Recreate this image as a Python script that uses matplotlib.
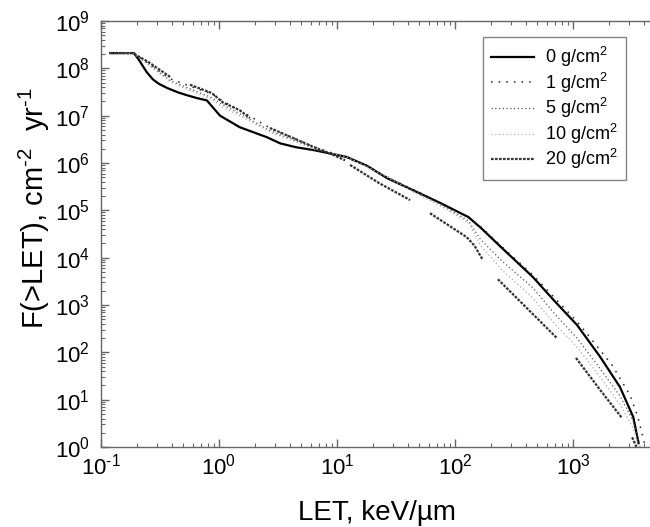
import numpy as np
import matplotlib
matplotlib.use("Agg")
import matplotlib.pyplot as plt
from matplotlib.ticker import LogLocator, FuncFormatter, NullFormatter

plt.rcParams['font.family'] = ['Liberation Sans', 'DejaVu Sans']
plt.rcParams['mathtext.fontset'] = 'custom'
plt.rcParams['mathtext.rm'] = 'Liberation Sans'
plt.rcParams['mathtext.it'] = 'Liberation Sans'
plt.rcParams['mathtext.default'] = 'regular'

nan = np.nan

# 0 g/cm2
let_0 = [0.12, 0.19, 0.21, 0.227, 0.245, 0.276, 0.31, 0.363, 0.45, 0.536, 0.65, 0.79, 0.84, 1.02, 1.5,
         2.55, 3.3, 4.5, 6.3, 12, 18, 26.5, 45, 75, 130, 165, 250, 457, 700, 1080, 1700, 2500, 3240, 3600]
f_0 = [2.1e8, 2.1e8, 1.5e8, 1.1e8, 8.2e7, 5.8e7, 4.7e7, 3.85e7, 3.1e7, 2.7e7, 2.35e7, 2.1e7, 1.75e7, 1.0e7,
       5.7e6, 3.5e6, 2.6e6, 2.15e6, 1.88e6, 1.35e6, 8.7e5, 4.8e5, 2.6e5, 1.43e5, 7.2e4, 4.3e4, 1.6e4, 3.9e3,
       1.2e3, 380, 80, 18.5, 4.3, 1.2]

# 1 g/cm2
let_1 = [0.12, 0.185, 0.25, 0.385, 0.568, 0.87, 1.08, 1.5, 2.7, 6.3, 12, 18, 26.5, 45, 75, 130, 165,
         250, 457, 1080, 1340, 2140, 3040, 3550, 3920, 4150]
f_1 = [2.1e8, 2.1e8, 1.3e8, 6.0e7, 4.2e7, 2.9e7, 2.0e7, 1.3e7, 5.5e6, 2.2e6, 1.3e6, 8.8e5, 5.0e5, 2.7e5,
       1.45e5, 7.0e4, 4.5e4, 1.7e4, 4.3e3, 450, 233, 54, 12.5, 4.3, 1.55, 0.9]

# 5 g/cm2
let_5 = [0.12, 0.185, 0.25, 0.385, 0.568, 0.87, 1.08, 1.5, 2.7, 6.3, 12, 18, 26.5, 45, 75, 130, 165,
         250, 457, 700, 1080, 1700, 2500, 3240, 3700]
f_5 = [2.1e8, 2.1e8, 1.25e8, 5.5e7, 3.7e7, 2.4e7, 1.7e7, 1.1e7, 4.8e6, 2.1e6, 1.3e6, 8.5e5, 5.2e5, 2.6e5,
       1.35e5, 6.0e4, 2.4e4, 8.5e3, 2.3e3, 650, 200, 45, 12, 3.5, 1.0]

# 10 g/cm2
let_10 = [0.12, 0.185, 0.25, 0.385, 0.568, 0.87, 1.08, 1.5, 2.7, 6.3, 12, 18, 26.5, 45, 75, 130, 165,
          250, 457, 700, 1080, 1700, 2500, 3240, 3600]
f_10 = [2.1e8, 2.1e8, 1.2e8, 5.2e7, 3.4e7, 2.2e7, 1.5e7, 1.0e7, 4.5e6, 2.0e6, 1.35e6, 8.3e5, 5.0e5, 2.4e5,
        1.25e5, 5.5e4, 1.8e4, 5.5e3, 1.4e3, 400, 130, 30, 8, 2.5, 1.0]

# 20 g/cm2 (drawn in broken pieces)
let_20 = [0.12, 0.185, 0.25, 0.385, nan,
          0.568, 0.87, 1.08, 1.5, 1.83, nan,
          2.7, 6.3, 9.2, 11.7, nan,
          12.9, 23, 41.6, nan,
          61.4, 126, 146, 172, nan,
          231, 731, nan,
          1060, 1700, 2600, nan,
          3170, 3450]
f_20 = [2.1e8, 2.1e8, 1.38e8, 6.6e7, nan,
        4.5e7, 3.0e7, 1.9e7, 1.3e7, 8.9e6, nan,
        5.5e6, 2.2e6, 1.5e6, 1.14e6, nan,
        9.1e5, 3.7e5, 1.65e5, nan,
        8.7e4, 2.7e4, 1.8e4, 9.0e3, nan,
        3.5e3, 200, nan,
        76, 16, 4.1, nan,
        1.6, 1.0]

labels = ['0 g/cm$^2$', '1 g/cm$^2$', '5 g/cm$^2$', '10 g/cm$^2$', '20 g/cm$^2$']

fig = plt.figure(figsize=(6.5, 5.27), dpi=100)
ax = fig.add_axes([101/650, 80/527, 590/650, 426/527])

ax.plot(let_0, f_0, color='black', lw=1.6, ls='-', label=labels[0])
ax.plot(let_1, f_1, color='#222222', lw=1.1, ls=(0, (1, 4)), label=labels[1])
ax.plot(let_5, f_5, color='#555555', lw=0.9, ls=(0, (1, 2)), label=labels[2])
ax.plot(let_10, f_10, color='#aaaaaa', lw=0.9, ls=(0, (1, 2)), label=labels[3])
ax.plot(let_20, f_20, color='#333333', lw=1.6, ls=(0, (1.2, 0.6)), label=labels[4])

ax.set_xscale('log')
ax.set_yscale('log')
ax.set_xlim(0.1, 1e4)
ax.set_ylim(1, 1e9)


def dec_fmt(limit):
    def f(v, pos):
        e = int(round(np.log10(v)))
        if v > limit * 1.01:
            return ''
        return '$10^{%s}$' % (('\u2010%d' % -e) if e < 0 else '%d' % e)
    return FuncFormatter(f)


ax.xaxis.set_major_locator(LogLocator(base=10, numticks=20))
ax.xaxis.set_minor_locator(LogLocator(base=10, subs=np.arange(2, 10), numticks=100))
ax.yaxis.set_major_locator(LogLocator(base=10, numticks=20))
ax.yaxis.set_minor_locator(LogLocator(base=10, subs=np.arange(2, 10), numticks=100))
ax.xaxis.set_major_formatter(dec_fmt(1e3))
ax.yaxis.set_major_formatter(dec_fmt(1e9))
ax.xaxis.set_minor_formatter(NullFormatter())
ax.yaxis.set_minor_formatter(NullFormatter())

for s in ax.spines.values():
    s.set_color('#666666')
    s.set_linewidth(1.0)
ax.tick_params(which='both', direction='in', top=True, right=True, color='#666666')
ax.tick_params(which='major', length=6, width=1.0, labelsize=16)
ax.tick_params(axis='x', which='major', pad=5)
ax.tick_params(axis='y', which='major', pad=8)
ax.tick_params(which='minor', length=3, width=0.8)

ax.set_xlabel('LET, keV/\u00b5m', fontsize=20)
ax.xaxis.set_label_coords((377 - 101) / 590, -53 / 426)
ax.set_ylabel('F(>LET), cm$^{\u20102}$  yr$^{\u20101}$', fontsize=21)
ax.yaxis.set_label_coords(-49 / 590, (447 - 208) / 426)

leg = ax.legend(loc='upper left', bbox_to_anchor=(483/650, 1 - 37/527), bbox_transform=fig.transFigure,
                fontsize=13, frameon=True, fancybox=False, handlelength=2.4, handletextpad=0.6,
                borderpad=0.45, labelspacing=0.08, borderaxespad=0)
leg.get_frame().set_edgecolor('#666666')
leg.get_frame().set_linewidth(1.0)

fig.savefig('out.png', dpi=100)
